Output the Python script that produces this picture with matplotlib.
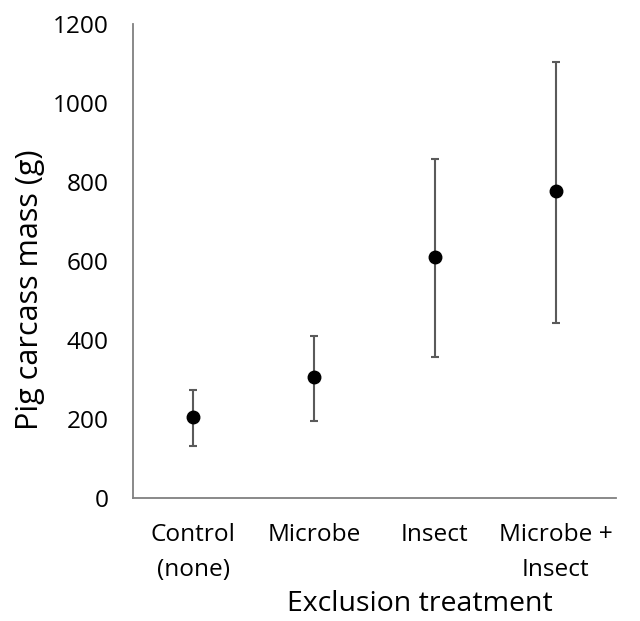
import matplotlib
matplotlib.use("Agg")
import matplotlib.pyplot as plt

categories = ["Control\n(none)", "Microbe", "Insect", "Microbe +\nInsect"]
means = [205, 307, 610, 778]
upper = [274, 410, 857, 1104]
lower = [131, 194, 357, 442]
yticks = [0, 200, 400, 600, 800, 1000, 1200]

plt.rcParams['font.family'] = ['Open Sans', 'DejaVu Sans']

fig = plt.figure(figsize=(6.4, 6.21), dpi=100)
ax = fig.add_axes([133/640, 1-497.7/621, (616-133)/640, (497.7-24)/621])

x = list(range(len(categories)))
yerr = [[m - l for m, l in zip(means, lower)], [u - m for m, u in zip(means, upper)]]
ax.errorbar(x, means, yerr=yerr, fmt='o', color='black', markersize=9,
            ecolor='#5a5a5a', elinewidth=1.5, capsize=3.2, capthick=1.5, zorder=3)

ax.set_xlim(-0.5, len(categories) - 0.5)
ax.set_ylim(0, 1200)
ax.set_yticks(yticks)
ax.set_yticklabels([str(t) for t in yticks])
ax.set_xticks(x)
ax.set_xticklabels(categories, linespacing=1.6)
ax.tick_params(axis='both', length=0, labelsize=17.6, colors='black')
ax.tick_params(axis='y', pad=17.5)
ax.tick_params(axis='x', pad=18)
for s in ['top', 'right']:
    ax.spines[s].set_visible(False)
for s in ['left', 'bottom']:
    ax.spines[s].set_color('#808080')
    ax.spines[s].set_linewidth(1.3)

ax.set_ylabel("Pig carcass mass (g)", fontsize=22)
ax.set_xlabel("Exclusion treatment", fontsize=20.5)
ax.yaxis.set_label_coords(-0.182, 0.439)
ax.xaxis.set_label_coords(0.594, -0.194)

fig.savefig("out.png", dpi=100)
